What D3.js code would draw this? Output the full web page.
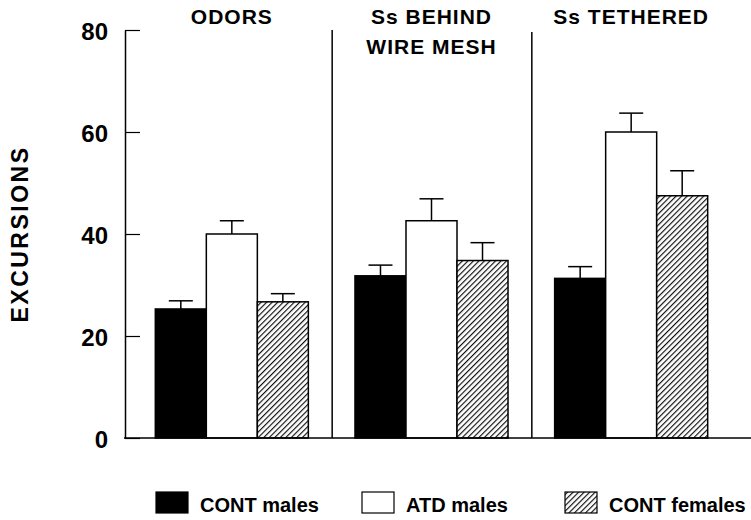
<!DOCTYPE html>
<html>
<head>
<meta charset="utf-8">
<script src="https://cdn.jsdelivr.net/npm/d3@7"></script>
<style>
  html, body { margin: 0; padding: 0; background: #fff; }
  svg { display: block; }
  text { font-family: "Liberation Sans", Arial, Helvetica, sans-serif; font-weight: bold; fill: #000; }
</style>
</head>
<body>
<svg id="chart" width="751" height="520"></svg>
<script>
// Test conditions (one panel each) and their titles
const panels = ["odors", "mesh", "tethered"];
const panelTitles = [["ODORS"], ["Ss BEHIND", "WIRE MESH"], ["Ss TETHERED"]];

// Subject groups, in bar order within each panel
const groups = ["CONT males", "ATD males", "CONT females"];

// Mean excursions per condition
const contMales = [25.3, 31.8, 31.3];
const atdMales = [40.0, 42.6, 60.0];
const contFemales = [26.7, 34.8, 47.5];

// Standard errors (drawn upward only)
const contMalesErr = [1.6, 2.1, 2.3];
const atdMalesErr = [2.6, 4.3, 3.7];
const contFemalesErr = [1.6, 3.5, 4.9];

const yTicks = [0, 20, 40, 60, 80];
const yLabel = "EXCURSIONS";

const svg = d3.select("#chart");

// Diagonal hatch fill for the female group
const defs = svg.append("defs");
const pat = defs.append("pattern")
  .attr("id", "hatch")
  .attr("patternUnits", "userSpaceOnUse")
  .attr("width", 3.9).attr("height", 3.9)
  .attr("patternTransform", "rotate(45)");
pat.append("rect").attr("width", 3.9).attr("height", 3.9).attr("fill", "#fff");
pat.append("line").attr("x1", 0.6).attr("y1", 0).attr("x2", 0.6).attr("y2", 3.9)
  .attr("stroke", "#000").attr("stroke-width", 1.1);

const fills = { "CONT males": "#000", "ATD males": "#fff", "CONT females": "url(#hatch)" };

const means = [contMales, atdMales, contFemales];
const errs = [contMalesErr, atdMalesErr, contFemalesErr];

const y = d3.scaleLinear().domain([0, 80]).range([438, 30]);
const x0 = d3.scaleBand().domain(panels).range([132, 731]).padding(0);
const x1 = d3.scaleBand().domain(groups).range([0, x0.bandwidth()])
  .paddingInner(0).paddingOuter(0.457);

const axisX = 125;

// Panel separators
svg.append("g").selectAll("line")
  .data(panels.slice(1))
  .join("line")
  .attr("x1", d => x0(d) + 0.5).attr("x2", d => x0(d) + 0.5)
  .attr("y1", (d, i) => y(80) + i * 2).attr("y2", y(0))
  .attr("stroke", "#000").attr("stroke-width", 1.5);

// Bars
const rows = [];
panels.forEach((p, pi) => {
  groups.forEach((g, gi) => {
    rows.push({ panel: p, group: g, value: means[gi][pi], err: errs[gi][pi] });
  });
});

const barG = svg.append("g");
barG.selectAll("rect")
  .data(rows)
  .join("rect")
  .attr("x", d => x0(d.panel) + x1(d.group))
  .attr("y", d => y(d.value))
  .attr("width", x1.bandwidth())
  .attr("height", d => y(0) - y(d.value))
  .attr("fill", d => fills[d.group])
  .attr("stroke", "#000").attr("stroke-width", 1.5);

// Error bars
const capW = 24;
const errG = svg.append("g").attr("stroke", "#000").attr("stroke-width", 1.5);
errG.selectAll("line.stem")
  .data(rows)
  .join("line").attr("class", "stem")
  .attr("x1", d => x0(d.panel) + x1(d.group) + x1.bandwidth() / 2)
  .attr("x2", d => x0(d.panel) + x1(d.group) + x1.bandwidth() / 2)
  .attr("y1", d => y(d.value))
  .attr("y2", d => y(d.value + d.err));
errG.selectAll("line.cap")
  .data(rows)
  .join("line").attr("class", "cap")
  .attr("x1", d => x0(d.panel) + x1(d.group) + x1.bandwidth() / 2 - capW / 2)
  .attr("x2", d => x0(d.panel) + x1(d.group) + x1.bandwidth() / 2 + capW / 2)
  .attr("y1", d => y(d.value + d.err))
  .attr("y2", d => y(d.value + d.err));

// Baseline
svg.append("line")
  .attr("x1", axisX - 1).attr("x2", 751)
  .attr("y1", y(0)).attr("y2", y(0))
  .attr("stroke", "#000").attr("stroke-width", 1.5);

// Y axis with inward ticks
const yAxis = d3.axisLeft(y).tickValues(yTicks).tickSizeInner(-15).tickSizeOuter(0).tickPadding(17);
const ya = svg.append("g").attr("transform", `translate(${axisX},0)`).call(yAxis);
ya.select(".domain").attr("stroke", "#000").attr("stroke-width", 1.5);
ya.selectAll(".tick line").attr("stroke", "#000").attr("stroke-width", 1.2);
ya.selectAll(".tick text")
  .attr("font-size", 24).attr("font-family", "Liberation Sans, Arial, sans-serif")
  .attr("font-weight", "bold").attr("fill", "#000").attr("dy", "0.38em");

// Y axis title
svg.append("text")
  .attr("transform", `translate(28,${(y(0) + y(80)) / 2}) rotate(-90)`)
  .attr("text-anchor", "middle")
  .attr("font-size", 23)
  .attr("letter-spacing", 2.5)
  .text(yLabel);

// Panel titles
const titleG = svg.append("g");
panels.forEach((p, pi) => {
  const t = titleG.append("text")
    .attr("x", x0(p) + x0.bandwidth() / 2)
    .attr("y", 24)
    .attr("text-anchor", "middle")
    .attr("font-size", 21)
    .attr("letter-spacing", 1);
  panelTitles[pi].forEach((line, li) => {
    t.append("tspan")
      .attr("x", x0(p) + x0.bandwidth() / 2)
      .attr("dy", li === 0 ? 0 : 30)
      .text(line);
  });
});

// Legend
const legendX = [156, 362, 565];
const leg = svg.append("g");
groups.forEach((g, i) => {
  leg.append("rect")
    .attr("x", legendX[i]).attr("y", 492)
    .attr("width", 32).attr("height", 21)
    .attr("fill", fills[g])
    .attr("stroke", "#000").attr("stroke-width", 1.2);
  leg.append("text")
    .attr("x", legendX[i] + 44).attr("y", 512)
    .attr("font-size", 20)
    .text(g);
});
</script>
</body>
</html>
